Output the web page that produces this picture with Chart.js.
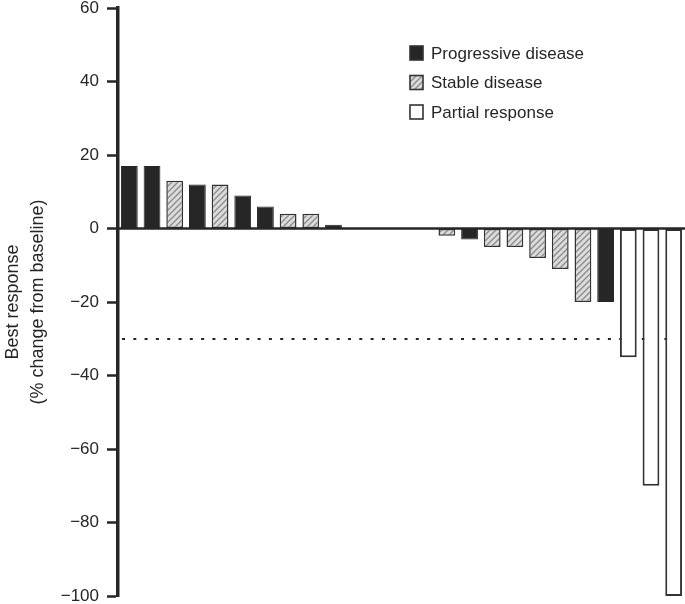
<!DOCTYPE html>
<html>
<head>
<meta charset="utf-8">
<script src="https://cdn.jsdelivr.net/npm/chart.js@4/dist/chart.umd.min.js"></script>
<style>
  body { margin: 0; background: #fff; }
  #wrap { width: 685px; height: 604px; }
</style>
</head>
<body>
<div id="wrap"><canvas id="chart"></canvas></div>
<script>
// one entry per patient, sorted as in the waterfall
var patients = ['1','2','3','4','5','6','7','8','9','10','11','12','13','14','15','16','17','18','19','20','21','22','23','24','25'];
var bestResponse = [17, 17, 13, 12, 12, 9, 6, 4, 4, 1, 0, 0, 0, 0, -2, -3, -5, -5, -8, -11, -20, -20, -35, -70, -100];
var responseType = ['PD','PD','SD','PD','SD','PD','PD','SD','SD','PD','','','','','SD','PD','SD','SD','SD','SD','SD','PD','PR','PR','PR'];

var typeKeys = ['PD', 'SD', 'PR'];
var typeNames = ['Progressive disease', 'Stable disease', 'Partial response'];
var yTicks = [-100, -80, -60, -40, -20, 0, 20, 40, 60];
var partialResponseCut = -30;

var FONT = '"Liberation Sans", Arial, Helvetica, sans-serif';
var INK = '#262626';

function hatchPattern() {
  var c = document.createElement('canvas');
  c.width = 6; c.height = 6;
  var g = c.getContext('2d');
  g.fillStyle = '#dcdcdc';
  g.fillRect(0, 0, 6, 6);
  g.strokeStyle = '#8c8c8c';
  g.lineWidth = 1.4;
  g.beginPath();
  g.moveTo(-1, 7); g.lineTo(7, -1);
  g.moveTo(-4, 4); g.lineTo(4, -4);
  g.moveTo(2, 10); g.lineTo(10, 2);
  g.stroke();
  return document.createElement('canvas').getContext('2d').createPattern(c, 'repeat');
}
var hatch = hatchPattern();

var fills = { PD: INK, SD: hatch, PR: '#ffffff' };
var borders = { PD: INK, SD: '#333333', PR: '#333333' };
var borderWidths = { PD: 1, SD: 1.5, PR: 2 };

var datasets = typeKeys.map(function (key, k) {
  return {
    label: typeNames[k],
    data: bestResponse.map(function (v, i) { return responseType[i] === key ? v : null; }),
    backgroundColor: fills[key],
    borderColor: borders[key],
    borderWidth: borderWidths[key],
    borderSkipped: false,
    categoryPercentage: 1,
    barPercentage: 0.74
  };
});

var refLines = {
  id: 'refLines',
  beforeDatasetsDraw: function (chart) {
    var ctx = chart.ctx, a = chart.chartArea;
    var y = Math.round(chart.scales.y.getPixelForValue(partialResponseCut));
    ctx.save();
    ctx.strokeStyle = INK;
    ctx.lineWidth = 2.2;
    ctx.setLineDash([3, 8.3]);
    ctx.beginPath();
    ctx.moveTo(a.left + 4, y);
    ctx.lineTo(a.right, y);
    ctx.stroke();
    ctx.restore();
  },
  afterDatasetsDraw: function (chart) {
    var ctx = chart.ctx, a = chart.chartArea;
    var y = chart.scales.y.getPixelForValue(0);
    ctx.save();
    ctx.strokeStyle = INK;
    ctx.lineWidth = 2.5;
    ctx.beginPath();
    ctx.moveTo(a.left, y);
    ctx.lineTo(chart.width, y);
    ctx.stroke();
    ctx.restore();
  }
};

var boxLegend = {
  id: 'boxLegend',
  afterDraw: function (chart) {
    var ctx = chart.ctx;
    ctx.save();
    ctx.font = '17px ' + FONT;
    ctx.textBaseline = 'middle';
    typeKeys.forEach(function (key, k) {
      var cy = 53 + k * 29.5;
      ctx.fillStyle = fills[key];
      ctx.fillRect(410, cy - 7, 13, 14);
      ctx.strokeStyle = '#333';
      ctx.lineWidth = 1.6;
      ctx.strokeRect(410, cy - 7, 13, 14);
      ctx.fillStyle = INK;
      ctx.fillText(typeNames[k], 431, cy + 1);
    });
    ctx.restore();
  }
};

new Chart(document.getElementById('chart'), {
  type: 'bar',
  data: { labels: patients, datasets: datasets },
  plugins: [refLines, boxLegend],
  options: {
    responsive: true,
    maintainAspectRatio: false,
    animation: false,
    layout: { padding: { left: 0, right: 0, top: 8, bottom: 8 } },
    plugins: { legend: { display: false }, tooltip: { enabled: false } },
    scales: {
      x: { display: false, stacked: true },
      y: {
        stacked: true,
        min: -100,
        max: 60,
        afterBuildTicks: function (scale) {
          scale.ticks = yTicks.map(function (v) { return { value: v }; });
        },
        afterFit: function (scale) {
          scale.width = 118;
          scale.paddingTop = 0;
          scale.paddingBottom = 0;
        },
        ticks: {
          color: INK,
          padding: 8,
          font: { family: FONT, size: 17 },
          callback: function (v) { return String(v).replace('-', '\u2212'); }
        },
        grid: {
          drawOnChartArea: false,
          drawTicks: true,
          tickLength: 11,
          tickWidth: 2.5,
          tickColor: INK
        },
        border: { display: true, color: INK, width: 3.5 },
        title: {
          display: true,
          text: ['Best response', '(% change from baseline)'],
          color: INK,
          font: { family: FONT, size: 18, lineHeight: 1.4 },
          padding: { top: 0, bottom: 0 }
        }
      }
    }
  }
});
</script>
</body>
</html>
